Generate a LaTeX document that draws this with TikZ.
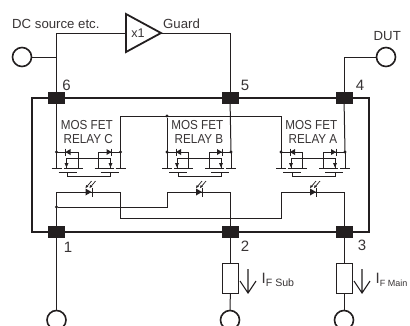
\documentclass[tikz,border=0pt]{standalone}
\usepackage{fontspec}
\setmainfont{Liberation Sans}
\definecolor{ink}{HTML}{231F20}
\tikzset{
  x=1pt,y=-1pt,
  wire/.style={draw=ink,line width=1pt},
  casing/.style={draw=ink,line width=2.2pt},
  pad/.style={fill=ink,draw=none,minimum width=17pt,minimum height=12pt,inner sep=0pt,outer sep=0pt},
  term/.style={circle,draw=ink,line width=1.6pt,fill=white,minimum size=19pt,inner sep=0pt,outer sep=0pt},
  load/.style={rectangle,draw=ink,line width=1pt,fill=white,minimum width=16pt,minimum height=30pt,inner sep=0pt,outer sep=0pt},
  dot/.style={circle,fill=ink,minimum size=3.4pt,inner sep=0pt,outer sep=0pt},
  lbl/.style={text=ink!90,inner sep=0pt,font=\fontsize{13.2}{14}\selectfont},
  rlbl/.style={text=ink!90,inner sep=0pt,anchor=base east,font=\fontsize{13}{13}\selectfont},
  num/.style={text=ink!90,inner sep=0pt,font=\fontsize{15}{15}\selectfont},
}
\newcommand{\relaycell}[4]{% x0, x1, letter, name
  \begin{scope}[shift={(#1,0)}]
    \coordinate (#4L) at (0,152);
    \coordinate (#4R) at (64,152);
    \node[dot] (#4Ld) at (#4L) {};
    \node[dot] (#4Rd) at (#4R) {};
    \draw[wire] (#4L) -- (0,168);
    \draw[wire] (#4R) -- (64,168);
    \draw[wire] (#4L) -- (21.7,152) -- (21.7,168);
    \draw[wire] (#4R) -- (42.3,152) -- (42.3,168);
    \draw[wire] (10,168) -- (10,158) -- (54,158) -- (54,168);
    \draw[wire] (-5,168) -- (5,168) (59,168) -- (69,168);
    \draw[wire] (7,168) -- (26,168) (38,168) -- (57,168);
    \draw[wire] (2,172) -- (20,172) (44,172) -- (62,172);
    \draw[wire] (11,172) -- (11,176) -- (54,176) -- (54,172);
    % body diodes
    \fill[ink] (9,152) -- (14,149) -- (14,155) -- cycle;
    \draw[wire] (9,148.5) -- (9,155.5);
    \fill[ink] (55,152) -- (50,149) -- (50,155) -- cycle;
    \draw[wire] (55,148.5) -- (55,155.5);
    % channel arrows
    \fill[ink] (10,167.5) -- (8,163) -- (12,163) -- cycle;
    \fill[ink] (54,167.5) -- (52,163) -- (56,163) -- cycle;
    % LED
    \fill[ink] (35,192) -- (29,188.5) -- (29,195.5) -- cycle;
    \draw[wire] (35.5,187.5) -- (35.5,197);
    \draw[ink,line width=0.7pt] (30,187) -- (35,181) (34,187) -- (39,181);
    \fill[ink] (29,188) -- (29.7,185) -- (31.8,186.6) -- cycle;
    \fill[ink] (33,188) -- (33.7,185) -- (35.8,186.6) -- cycle;
    \node[rlbl] (#4t1) at (56.5,129) {\scalebox{0.9}[1]{MOS FET}};
    \node[rlbl] (#4t2) at (56.5,143) {\scalebox{0.9}[1]{RELAY #3}};
  \end{scope}
}
\begin{document}
\begin{tikzpicture}
\useasboundingbox (0,0) rectangle (410,325);
\clip (0,0) rectangle (410,325);
\fill[white] (0,0) rectangle (410,325);
% casing
\draw[casing] (32,98) rectangle (369,232);
% terminals and pads
\node[pad] (p6) at (56.5,98) {};
\node[pad] (p5) at (230,98) {};
\node[pad] (p4) at (344,98) {};
\node[pad] (p1) at (56.5,232) {};
\node[pad] (p2) at (230,232) {};
\node[pad] (p3) at (344,232) {};
\node[term] (tsrc) at (22,57) {};
\node[term] (tdut) at (386,57) {};
\node[term] (t1) at (56.5,320) {};
\node[term] (t2) at (230,320) {};
\node[term] (t3) at (344,320) {};
\node[load] (r2) at (230.5,278) {};
\node[load] (r3) at (344,278) {};
\coordinate (jsrc) at (56.5,57);
\coordinate (amp) at (126,33);
\coordinate (ampout) at (161,33);
% amp
\draw[ink,line width=1.8pt,line join=miter,fill=white] (126,14) -- (161,33) -- (126,52) -- cycle;
\node[lbl,font=\fontsize{12.6}{13}\selectfont] (ampt) at (138,33.5) {x1};
% outer wires
\draw[wire] (tsrc) -- (jsrc);
\draw[wire] (amp) -- (jsrc |- amp) -- (p6.center);
\draw[wire] (ampout) -- (p5.center |- ampout) -- (p5.center);
\draw[wire] (tdut) -- (p4.center |- tdut) -- (p4.center);
% relays
\relaycell{56.5}{120}{C}{c}
\relaycell{167}{230}{B}{b}
\relaycell{281}{344}{A}{a}
% relay wires
\draw[wire] (p6.center) -- (cL);
\draw[wire] (p5.center) -- (bR);
\draw[wire] (p4.center) -- (aR);
\draw[wire] (cR) -- (120.5,116) -- (281,116) -- (aL);
\node[dot] (jb) at (167,116) {};
\draw[wire] (jb) -- (bL);
% LED side
\node[dot] (j1) at (56.5,207) {};
\draw[wire] (t1) -- (56.5,192) -- (120.5,192) -- (120.5,218) -- (281,218) -- (281,192) -- (344,192) -- (r3);
\draw[wire] (j1) -- (167,207) -- (167,192) -- (230.5,192) -- (r2);
\draw[wire] (r2) -- (t2);
\draw[wire] (r3) -- (t3);
% current arrows
\coordinate (a2t) at (248,269);\coordinate (a2b) at (248,293);
\coordinate (a3t) at (362,269);\coordinate (a3b) at (362,293);
\draw[ink,line width=1.1pt] (a2t) -- (a2b) (240,281) -- (a2b) -- (256,281);
\draw[ink,line width=1.1pt] (a3t) -- (a3b) (354,281) -- (a3b) -- (370,281);
% texts
\node[lbl,anchor=base west] (tdc) at (12,28) {DC source etc.};
\node[lbl,anchor=base west] (tguard) at (163,28) {Guard};
\node[lbl,anchor=base west] (tdutl) at (373.5,40) {DUT};
\node[num] (n6) at (66.5,85) {6};
\node[num] (n5) at (245,85) {5};
\node[num] (n4) at (360,85) {4};
\node[num] (n1) at (68,247) {1};
\node[num] (n2) at (245,246) {2};
\node[num] (n3) at (362,245) {3};
\node[lbl,anchor=base west] (ifs) at (261.5,283) {\fontsize{15}{15}\selectfont I\raisebox{-3pt}{\fontsize{10.6}{11}\selectfont F Sub}};
\node[lbl,anchor=base west] (ifm) at (375.5,283) {\fontsize{15}{15}\selectfont I\raisebox{-3pt}{\fontsize{9}{11}\selectfont F Main}};
\end{tikzpicture}
\end{document}
